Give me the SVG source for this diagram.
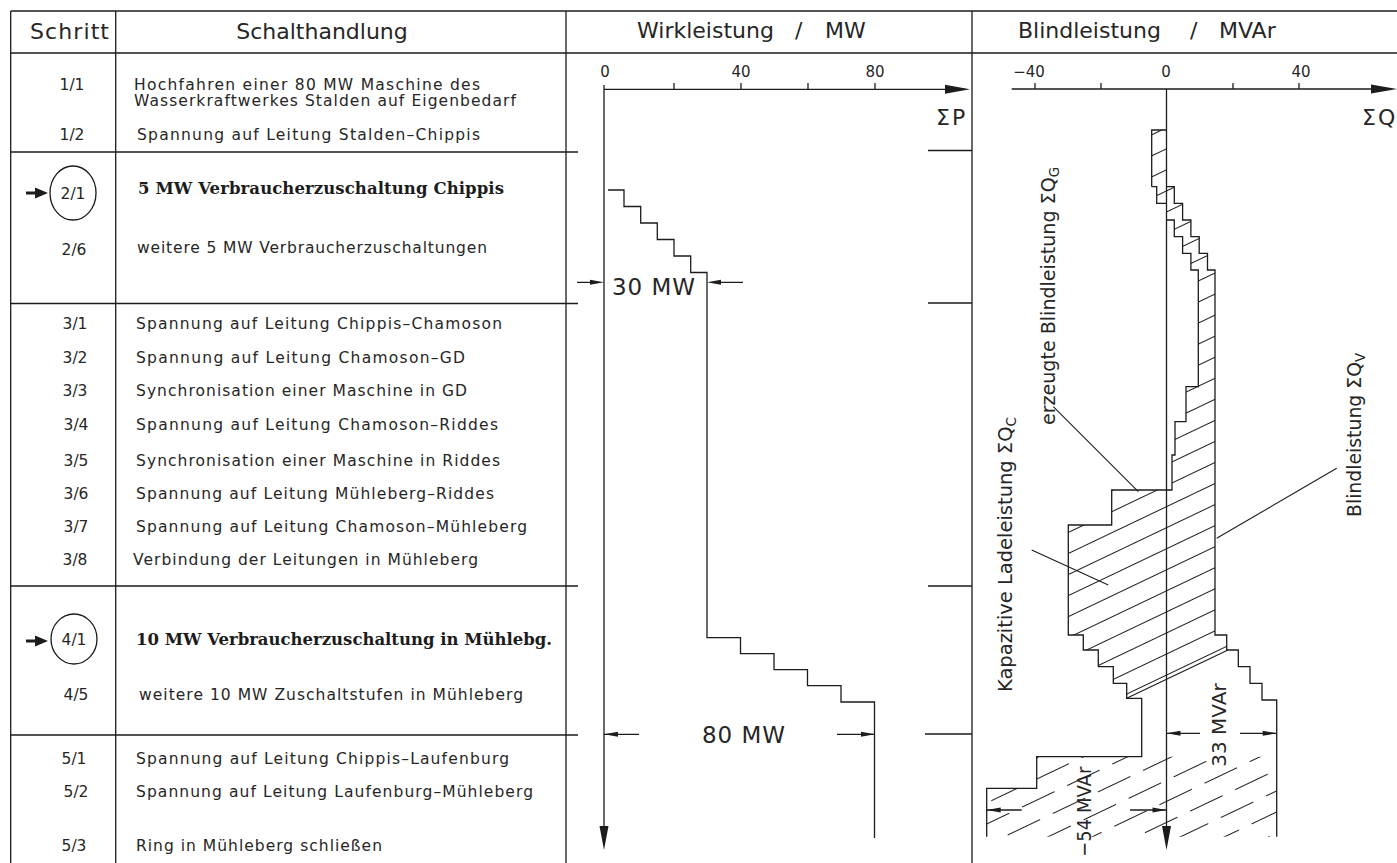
<svg xmlns="http://www.w3.org/2000/svg" width="1397" height="863" viewBox="0 0 1397 863">
<defs>
<style>
.ln{stroke:#1c1c1c;stroke-width:1.3;fill:none}
.hl{stroke:#1c1c1c;stroke-width:1.1;fill:none}
.ah{fill:#1c1c1c;stroke:none}
.t{font-family:"DejaVu Sans","Liberation Sans",sans-serif;fill:#262626}
.h{font-size:22px}
.s{font-size:15.5px}
.b{font-family:"DejaVu Serif","Liberation Serif",serif;font-weight:bold;font-size:16.5px;fill:#1c1c1c}
.ax{font-size:15px}
.lab{font-size:20px}
.dim{font-size:20px}
</style>
<pattern id="hat" patternUnits="userSpaceOnUse" width="40" height="19" patternTransform="rotate(-25.5)">
<line x1="0" y1="9.5" x2="40" y2="9.5" stroke="#1c1c1c" stroke-width="1.1"/>
</pattern>
<pattern id="hatd" patternUnits="userSpaceOnUse" width="100" height="38" patternTransform="rotate(-25.5)">
<line x1="0" y1="9.5" x2="100" y2="9.5" stroke="#1c1c1c" stroke-width="1.1" stroke-dasharray="36 14"/>
<line x1="0" y1="28.5" x2="100" y2="28.5" stroke="#1c1c1c" stroke-width="1.1" stroke-dasharray="36 14" stroke-dashoffset="25"/>
</pattern>
</defs>
<rect width="1397" height="863" fill="#fff"/>

<g id="table">
<path class="ln" d="M10.7,11 H1397 M10.7,53 H1397 M10.7,11 V863 M115.7,11 V863 M566,11 V863 M972,11 V863"/>
<path class="ln" d="M10.7,152 H578 M10.7,303.5 H578 M10.7,586 H578 M10.7,735 H578"/>
<path class="ln" d="M928,150.5 H972 M928,303 H972 M928,586 H972 M925,734 H972"/>
<text class="t h" x="30" y="39" textLength="79" lengthAdjust="spacing">Schritt</text>
<text class="t h" x="322" y="39" text-anchor="middle">Schalthandlung</text>
<text class="t h" y="38"><tspan x="637">Wirkleistung</tspan><tspan x="795">/</tspan><tspan x="825">MW</tspan></text>
<text class="t h" y="38"><tspan x="1018">Blindleistung</tspan><tspan x="1190">/</tspan><tspan x="1219">MVAr</tspan></text>
</g>

<g id="step-1-1">
<text class="t s" x="72" y="90" text-anchor="middle">1/1</text>
<text class="t s" x="134" y="90" textLength="346" lengthAdjust="spacing">Hochfahren einer 80 MW Maschine des</text>
<text class="t s" x="134" y="106" textLength="382" lengthAdjust="spacing">Wasserkraftwerkes Stalden auf Eigenbedarf</text>
</g>
<g id="step-1-2">
<text class="t s" x="72" y="140" text-anchor="middle">1/2</text>
<text class="t s" x="137" y="140" textLength="343" lengthAdjust="spacing">Spannung auf Leitung Stalden–Chippis</text>
</g>
<g id="step-2-1">
<path class="ah" d="M26,191.4 H35 V187.5 L48,193 L35,198.5 V194.6 H26 Z"/>
<ellipse class="ln" cx="73" cy="193" rx="23" ry="27"/>
<text class="t s" x="73" y="199" text-anchor="middle">2/1</text>
<text class="b" x="138" y="194" textLength="366" lengthAdjust="spacing">5 MW Verbraucherzuschaltung Chippis</text>
</g>
<g id="step-2-6">
<text class="t s" x="74" y="255" text-anchor="middle">2/6</text>
<text class="t s" x="137" y="253" textLength="350" lengthAdjust="spacing">weitere 5 MW Verbraucherzuschaltungen</text>
</g>
<g id="step-3">
<text class="t s" x="75" y="329" text-anchor="middle">3/1</text>
<text class="t s" x="136" y="329" textLength="366" lengthAdjust="spacing">Spannung auf Leitung Chippis–Chamoson</text>
<text class="t s" x="75" y="363" text-anchor="middle">3/2</text>
<text class="t s" x="136" y="363" textLength="329" lengthAdjust="spacing">Spannung auf Leitung Chamoson–GD</text>
<text class="t s" x="75" y="396" text-anchor="middle">3/3</text>
<text class="t s" x="136" y="396" textLength="331" lengthAdjust="spacing">Synchronisation einer Maschine in GD</text>
<text class="t s" x="76" y="430" text-anchor="middle">3/4</text>
<text class="t s" x="136" y="430" textLength="362" lengthAdjust="spacing">Spannung auf Leitung Chamoson–Riddes</text>
<text class="t s" x="76" y="466" text-anchor="middle">3/5</text>
<text class="t s" x="136" y="466" textLength="364" lengthAdjust="spacing">Synchronisation einer Maschine in Riddes</text>
<text class="t s" x="76" y="499" text-anchor="middle">3/6</text>
<text class="t s" x="136" y="499" textLength="358" lengthAdjust="spacing">Spannung auf Leitung Mühleberg–Riddes</text>
<text class="t s" x="76" y="532" text-anchor="middle">3/7</text>
<text class="t s" x="136" y="532" textLength="391" lengthAdjust="spacing">Spannung auf Leitung Chamoson–Mühleberg</text>
<text class="t s" x="75" y="565" text-anchor="middle">3/8</text>
<text class="t s" x="133" y="565" textLength="345" lengthAdjust="spacing">Verbindung der Leitungen in Mühleberg</text>
</g>
<g id="step-4-1">
<path class="ah" d="M26,639.4 H35 V635.5 L48,641 L35,646.5 V642.6 H26 Z"/>
<ellipse class="ln" cx="74" cy="639" rx="23" ry="25"/>
<text class="t s" x="74" y="645" text-anchor="middle">4/1</text>
<text class="b" x="136" y="645" textLength="416" lengthAdjust="spacing">10 MW Verbraucherzuschaltung in Mühlebg.</text>
</g>
<g id="step-4-5">
<text class="t s" x="76" y="700" text-anchor="middle">4/5</text>
<text class="t s" x="139" y="700" textLength="384" lengthAdjust="spacing">weitere 10 MW Zuschaltstufen in Mühleberg</text>
</g>
<g id="step-5">
<text class="t s" x="74" y="764" text-anchor="middle">5/1</text>
<text class="t s" x="136" y="764" textLength="373" lengthAdjust="spacing">Spannung auf Leitung Chippis–Laufenburg</text>
<text class="t s" x="76" y="797" text-anchor="middle">5/2</text>
<text class="t s" x="136" y="797" textLength="397" lengthAdjust="spacing">Spannung auf Leitung Laufenburg–Mühleberg</text>
<text class="t s" x="74" y="851" text-anchor="middle">5/3</text>
<text class="t s" x="136" y="851" textLength="246" lengthAdjust="spacing">Ring in Mühleberg schließen</text>
</g>

<g id="wirkleistung-chart">
<path class="ln" d="M604,89.3 H948 M604,85 V828 M674,83 V89.3 M741,83 V89.3 M808,83 V89.3 M875,83 V89.3"/>
<path class="ah" d="M945,84.8 L970,89.3 L945,93.8 Z M599.5,826 L604,850 L608.5,826 Z"/>
<text class="t ax" x="605" y="77" text-anchor="middle">0</text>
<text class="t ax" x="741" y="77" text-anchor="middle">40</text>
<text class="t ax" x="875" y="77" text-anchor="middle">80</text>
<text class="t" y="125" font-size="22"><tspan x="936">Σ</tspan><tspan x="952">P</tspan></text>
<path class="ln" d="M608,190 H624 V206.5 H640.7 V223 H657.3 V239.5 H674 V256 H690.7 V272.5 H707 V637.7 H740.5 V653.7 H774 V669.7 H807.5 V685.7 H841 V702 H874.5 V838"/>
<path class="ln" d="M577,282.3 H592 M743,282.3 H719 M604,734.3 H639 M837,734.3 H875"/>
<path class="ah" d="M590,279.8 L604,282.3 L590,284.8 Z M721,279.8 L707,282.3 L721,284.8 Z M618,731.8 L604,734.3 L618,736.8 Z M861,731.8 L875,734.3 L861,736.8 Z"/>
<text class="t" x="612" y="295" font-size="23" textLength="83" lengthAdjust="spacing">30 MW</text>
<text class="t" x="702" y="743" font-size="23" textLength="83" lengthAdjust="spacing">80 MW</text>
</g>

<g id="blindleistung-chart">
<path d="M1151.7,130 H1166 V186.7 H1174.3 V203.3 H1182.6 V220 H1190.9 V236.7 H1199.2 V253.3 H1207.5 V270 H1215 V635 H1226.7 V650 H1228 L1126.7,698.3 V683.3 H1113.3 V666.7 H1098.3 V650 H1083.3 V635 H1068.3 V525 H1111.7 V490 H1172 V455 H1175 V421.7 H1186 V386.7 H1198.3 V270 H1190.9 V253.3 H1182.6 V236.7 H1174.3 V220 H1166 V203.3 H1156.7 V186.7 H1151.7 Z" fill="url(#hat)" stroke="none"/>
<path d="M986.7,788.3 H1036.7 V756.7 H1276.7 V836.7 H986.7 Z" fill="url(#hatd)" stroke="none"/>
<path class="ln" d="M1151.7,186.7 V130 H1166 M1166,186.7 H1174.3 V203.3 H1182.6 V220 H1190.9 V236.7 H1199.2 V253.3 H1207.5 V270 H1215 V635 H1226.7 V650 H1238.3 V666.7 H1250 V683.3 H1262 V700 H1276.7 V836.7"/>
<path class="ln" d="M1151.7,186.7 H1156.7 V203.3 H1166 M1166,220 H1174.3 V236.7 H1182.6 V253.3 H1190.9 V270 H1198.3 V386.7 H1186 V421.7 H1175 V455 H1172 V490 H1111.7 V525 H1068.3 V635 H1083.3 V650 H1098.3 V666.7 H1113.3 V683.3 H1126.7 V698.3 H1141.7 V756.7 H1036.7 V788.3 H986.7 V836.7"/>
<path class="hl" d="M1126.7,698.3 L1228,650"/>
<path class="ln" d="M1011.7,89 H1375 M1166.5,89 V828 M1035,83 V89 M1101,83 V89 M1233,83 V89 M1299,83 V89"/>
<path class="ah" d="M1371,84.5 L1397,89 L1371,93.5 Z M1162,826 L1166.5,850 L1171,826 Z"/>
<text class="t ax" x="1029" y="77" text-anchor="middle">−40</text>
<text class="t ax" x="1166" y="77" text-anchor="middle">0</text>
<text class="t ax" x="1301" y="77" text-anchor="middle">40</text>
<text class="t" y="125" font-size="22"><tspan x="1362">Σ</tspan><tspan x="1378">Q</tspan></text>
<path class="ln" d="M1166.5,733.3 H1200 M1240,733.3 H1276.7 M986.7,810 H1021.7 M1130,810 H1166.5"/>
<path class="ah" d="M1180.5,730.8 L1166.5,733.3 L1180.5,735.8 Z M1262.7,730.8 L1276.7,733.3 L1262.7,735.8 Z M1000.7,807.5 L986.7,810 L1000.7,812.5 Z M1152.5,807.5 L1166.5,810 L1152.5,812.5 Z"/>
<text class="t dim" transform="translate(1226,725) rotate(-90)" text-anchor="middle">33 MVAr</text>
<text class="t dim" transform="translate(1091,811.7) rotate(-90)" text-anchor="middle" textLength="90" lengthAdjust="spacingAndGlyphs">−54 MVAr</text>
<path class="hl" d="M1053.3,406.7 L1138.3,491.7 M1031.7,550 L1108.3,585 M1336.7,468.3 L1216.7,538.3"/>
<text class="t lab" transform="translate(1012,554.5) rotate(-90)" text-anchor="middle" textLength="275" lengthAdjust="spacingAndGlyphs">Kapazitive Ladeleistung ΣQ<tspan dy="4" font-size="14">C</tspan></text>
<text class="t lab" transform="translate(1055,296) rotate(-90)" text-anchor="middle" textLength="258" lengthAdjust="spacingAndGlyphs">erzeugte Blindleistung ΣQ<tspan dy="4" font-size="14">G</tspan></text>
<text class="t lab" transform="translate(1361,435) rotate(-90)" text-anchor="middle" textLength="164" lengthAdjust="spacingAndGlyphs">Blindleistung ΣQ<tspan dy="4" font-size="14">V</tspan></text>
</g>
</svg>
